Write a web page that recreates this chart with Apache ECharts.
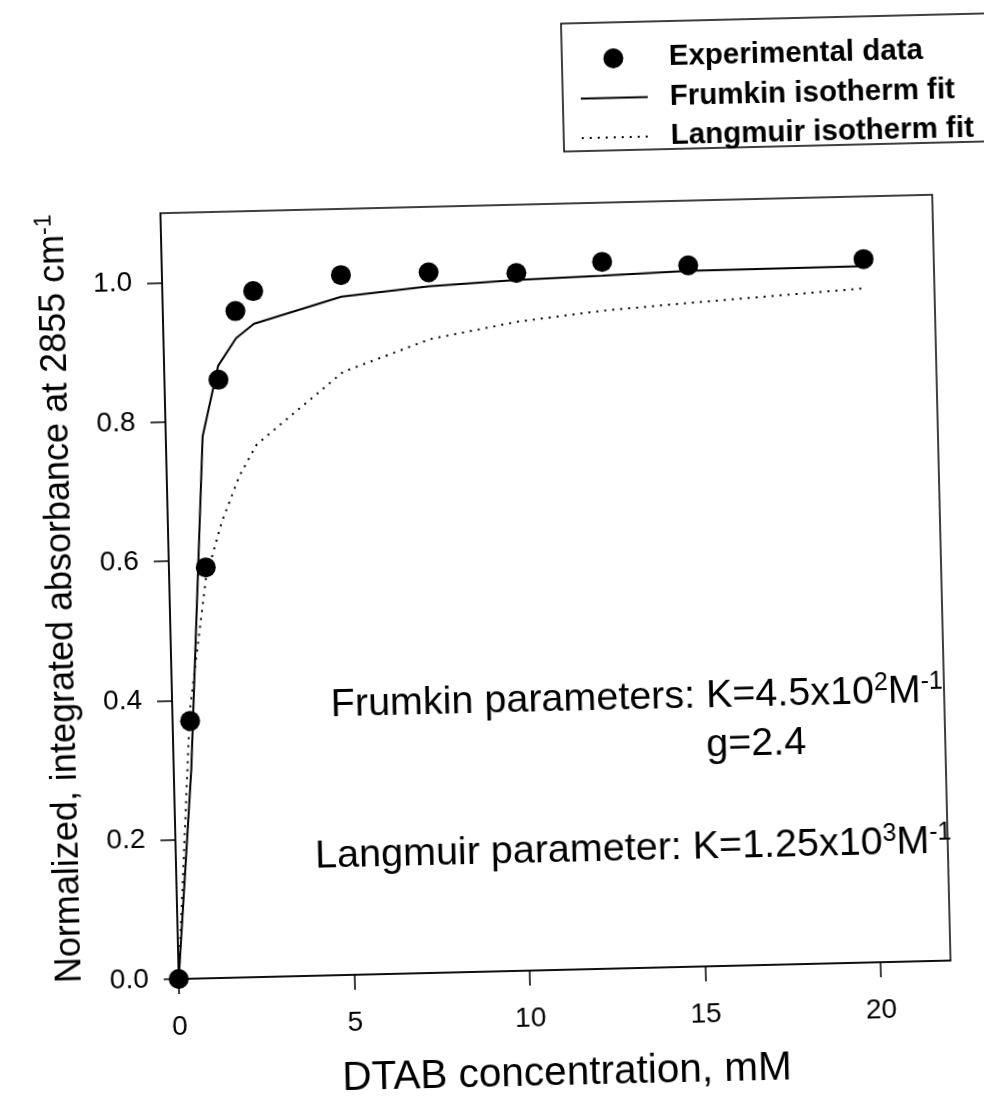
<!DOCTYPE html>
<html>
<head>
<meta charset="utf-8">
<script src="https://cdn.jsdelivr.net/npm/echarts@6/dist/echarts.min.js"></script>
<style>
html,body{margin:0;padding:0;background:#fff;overflow:hidden;width:984px;height:1110px;}
#chart{position:absolute;left:0;top:0;width:1040px;height:1110px;transform:rotate(-1.37deg);transform-origin:179px 990px;}
</style>
</head>
<body>
<div id="chart"></div>
<script>
// DTAB concentration (mM)
const concentration = [0, 0.5, 1.05, 1.54, 2.07, 2.59, 5.1, 7.6, 10.1, 12.55, 15.0, 20.0];
// Normalized integrated absorbance at 2855 cm-1
const experimental = [0, 0.37, 0.59, 0.859, 0.957, 0.985, 1.005, 1.006, 1.002, 1.015, 1.007, 1.01];
const frumkinFit = [0, 0.30, 0.778, 0.879, 0.918, 0.938, 0.974, 0.986, 0.992, 0.995, 0.999, 1.0];
const langmuirFit = [0, 0.385, 0.575, 0.655, 0.72, 0.765, 0.866, 0.91, 0.932, 0.945, 0.953, 0.968];
const xTicks = [0, 5, 10, 15, 20];
const yTicks = [0, 0.2, 0.4, 0.6, 0.8, 1.0];
const seriesNames = ['Experimental data', 'Frumkin isotherm fit', 'Langmuir isotherm fit'];

const FONT = '"Liberation Sans", Arial, Helvetica, sans-serif';
const pair = (ys) => concentration.map((x, i) => [x, ys[i]]);
const noSymbol = {color: 'rgba(0,0,0,0)', borderColor: 'rgba(0,0,0,0)', borderWidth: 0};

const chart = echarts.init(document.getElementById('chart'), null, {renderer: 'canvas'});
chart.setOption({
  animation: false,
  backgroundColor: '#fff',
  grid: {left: 179, right: 89, top: 213, bottom: 120, show: true, borderColor: '#000', borderWidth: 1.5, containLabel: false},
  xAxis: {
    type: 'value', min: 0, max: 22,
    name: 'DTAB concentration, mM', nameLocation: 'middle', nameGap: 81,
    nameTextStyle: {fontFamily: FONT, fontSize: 40.5, color: '#000', lineHeight: 45},
    axisLine: {show: true, lineStyle: {color: '#000', width: 1.5}},
    axisTick: {show: true, inside: false, length: 15, lineStyle: {color: '#000', width: 1.5}, customValues: xTicks},
    axisLabel: {fontFamily: FONT, fontSize: 28, color: '#000', margin: 34, lineHeight: 28, customValues: xTicks},
    splitLine: {show: false}
  },
  yAxis: {
    type: 'value', min: 0, max: 1.1,
    name: '{a|Normalized, integrated absorbance at 2855 cm}{s|-1}', nameLocation: 'middle', nameRotate: 90, nameGap: 88,
    nameTextStyle: {
      fontFamily: FONT, fontSize: 36, color: '#000',
      rich: {
        a: {fontFamily: FONT, fontSize: 36, color: '#000', lineHeight: 40},
        s: {fontFamily: FONT, fontSize: 23, color: '#000', lineHeight: 40, verticalAlign: 'top', padding: [0, 0, 14, 0]}
      }
    },
    axisLine: {show: true, lineStyle: {color: '#000', width: 1.5}},
    axisTick: {show: true, inside: false, length: 15, lineStyle: {color: '#000', width: 1.5}, customValues: yTicks},
    axisLabel: {fontFamily: FONT, fontSize: 28, color: '#000', margin: 30, customValues: yTicks, formatter: (v) => v.toFixed(1)},
    splitLine: {show: false}
  },
  legend: {
    data: [
      {name: seriesNames[0]},
      {name: seriesNames[1], itemStyle: noSymbol},
      {name: seriesNames[2], itemStyle: noSymbol}
    ],
    orient: 'vertical', left: 601, top: 54, padding: 0,
    itemWidth: 67, itemHeight: 20, itemGap: 9.5,
    selectedMode: false,
    textStyle: {fontFamily: FONT, fontSize: 29.5, fontWeight: 'bold', color: '#000', lineHeight: 28, padding: [0, 0, 0, 17]}
  },
  graphic: [
    {type: 'rect', shape: {x: 584, y: 33, width: 600, height: 128}, style: {fill: 'none', stroke: '#000', lineWidth: 1.5}, silent: true},
    {type: 'text', x: 950, y: 709, silent: true, style: {
      text: '{a|Frumkin parameters: K=4.5x10}{s|2}{a|M}{s|-1}', align: 'right', verticalAlign: 'middle',
      rich: {a: {fontFamily: FONT, fontSize: 39.5, fill: '#000', lineHeight: 43}, s: {fontFamily: FONT, fontSize: 25, fill: '#000', lineHeight: 43, verticalAlign: 'top', padding: [0, 0, 14, 0]}}
    }},
    {type: 'text', x: 712, y: 758, silent: true, style: {
      text: 'g=2.4', align: 'left', verticalAlign: 'middle', fontFamily: FONT, fontSize: 39.5, fill: '#000'
    }},
    {type: 'text', x: 955, y: 860, silent: true, style: {
      text: '{a|Langmuir parameter: K=1.25x10}{s|3}{a|M}{s|-1}', align: 'right', verticalAlign: 'middle',
      rich: {a: {fontFamily: FONT, fontSize: 39.5, fill: '#000', lineHeight: 43}, s: {fontFamily: FONT, fontSize: 25, fill: '#000', lineHeight: 43, verticalAlign: 'top', padding: [0, 0, 14, 0]}}
    }}
  ],
  series: [
    {name: seriesNames[2], type: 'line', data: pair(langmuirFit), symbol: 'none', z: 2,
     lineStyle: {color: '#000', width: 2, type: [2, 6]}, itemStyle: {color: '#000'}},
    {name: seriesNames[1], type: 'line', data: pair(frumkinFit), symbol: 'none', z: 3,
     lineStyle: {color: '#000', width: 2}, itemStyle: {color: '#000'}},
    {name: seriesNames[0], type: 'scatter', data: pair(experimental), symbol: 'circle', symbolSize: 20, z: 5,
     itemStyle: {color: '#000', opacity: 1}}
  ]
});
</script>
</body>
</html>
